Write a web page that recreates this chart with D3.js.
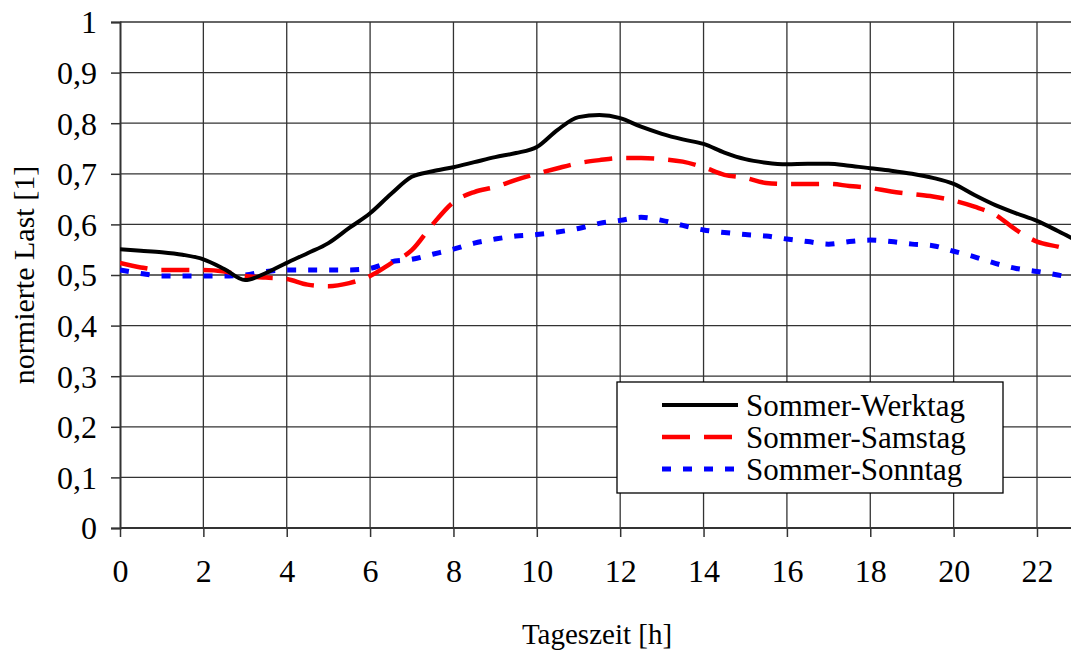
<!DOCTYPE html>
<html>
<head>
<meta charset="utf-8">
<script src="https://cdn.jsdelivr.net/npm/d3@7"></script>
<style>
  body { margin: 0; background: #fff; }
  svg { display: block; }
  svg text { font-family: "Liberation Serif", "Times New Roman", serif; }
</style>
</head>
<body>
<div id="chart"></div>
<script>
// half-hour values
var hours = d3.range(0, 23.5, 0.5);

var werktag = [0.551, 0.548, 0.545, 0.540, 0.531, 0.512, 0.490, 0.504, 0.524, 0.543, 0.563, 0.593,
               0.622, 0.660, 0.694, 0.705, 0.713, 0.723, 0.733, 0.741, 0.753, 0.787, 0.812, 0.816,
               0.810, 0.793, 0.779, 0.768, 0.759, 0.742, 0.729, 0.722, 0.719, 0.720, 0.720, 0.716,
               0.711, 0.706, 0.700, 0.692, 0.680, 0.658, 0.638, 0.622, 0.607, 0.587, 0.566];
var samstag = [0.524, 0.515, 0.510, 0.510, 0.510, 0.507, 0.498, 0.495, 0.492, 0.481, 0.478, 0.484,
               0.498, 0.523, 0.549, 0.600, 0.644, 0.664, 0.674, 0.688, 0.700, 0.711, 0.721, 0.727,
               0.731, 0.731, 0.729, 0.724, 0.713, 0.698, 0.692, 0.682, 0.680, 0.680, 0.680, 0.676,
               0.672, 0.665, 0.660, 0.655, 0.647, 0.635, 0.619, 0.589, 0.566, 0.556, 0.545];
var sonntag = [0.510, 0.503, 0.498, 0.498, 0.498, 0.498, 0.500, 0.507, 0.510, 0.510, 0.510, 0.510,
               0.513, 0.526, 0.531, 0.541, 0.551, 0.563, 0.571, 0.577, 0.580, 0.585, 0.592, 0.602,
               0.608, 0.614, 0.608, 0.598, 0.589, 0.584, 0.580, 0.577, 0.571, 0.566, 0.561, 0.566,
               0.569, 0.566, 0.561, 0.558, 0.547, 0.536, 0.523, 0.513, 0.507, 0.500, 0.492];

var seriesNames = ["Sommer-Werktag", "Sommer-Samstag", "Sommer-Sonntag"];
var xTicks = d3.range(0, 23, 2);
var yTicks = d3.range(0, 1.01, 0.1);

var W = 1071, H = 653;
var margin = { top: 22, right: 0, bottom: 125, left: 120 };

var svg = d3.select("#chart").append("svg")
    .attr("width", W)
    .attr("height", H);

var x = d3.scaleLinear()
    .domain([0, 22])
    .range([margin.left, 1037]);

var y = d3.scaleLinear()
    .domain([0, 1])
    .range([H - margin.bottom, margin.top]);

var x0 = margin.left, x1 = W, y0 = y(0), y1 = y(1);

svg.append("clipPath").attr("id", "clip")
    .append("rect")
    .attr("x", x0).attr("y", y1 - 5)
    .attr("width", x1 - x0).attr("height", y0 - y1 + 10);

// grid
var grid = svg.append("g").attr("stroke", "#333").attr("stroke-width", 1.3);
grid.selectAll(".hg").data(yTicks.slice(1)).enter().append("line")
    .attr("x1", x0).attr("x2", x1)
    .attr("y1", d => y(d)).attr("y2", d => y(d));
grid.selectAll(".vg").data(xTicks.slice(1)).enter().append("line")
    .attr("x1", d => x(d)).attr("x2", d => x(d))
    .attr("y1", y1).attr("y2", y0);

// axes
var yAxis = svg.append("g")
    .attr("transform", "translate(" + x0 + ",0)")
    .call(d3.axisLeft(y).tickValues(yTicks).tickSize(9).tickPadding(14)
        .tickFormat(d => d === 0 || d > 0.99 ? d3.format("d")(Math.round(d)) : d3.format(".1f")(d).replace(".", ",")));
yAxis.attr("font-family", null).attr("font-size", null);
yAxis.select(".domain").attr("stroke", "#333").attr("stroke-width", 2);
yAxis.selectAll(".tick line").attr("stroke", "#333").attr("stroke-width", 1.5);
yAxis.selectAll("text").attr("fill", "#000").style("font-size", "32px").attr("dy", "0.34em");

var xAxis = svg.append("g")
    .attr("transform", "translate(0," + y0 + ")")
    .call(d3.axisBottom(x).tickValues(xTicks).tickSize(9).tickPadding(22).tickFormat(d3.format("d")));
xAxis.attr("font-family", null).attr("font-size", null);
xAxis.select(".domain").remove();
xAxis.append("line").attr("x1", x0).attr("x2", x1).attr("stroke", "#333").attr("stroke-width", 2);
xAxis.selectAll(".tick line").attr("stroke", "#333").attr("stroke-width", 1.5);
xAxis.selectAll("text").attr("fill", "#000").style("font-size", "32px");

// lines
var line = d3.line()
    .x((d, i) => x(hours[i]))
    .y(d => y(d))
    .curve(d3.curveMonotoneX);

var styles = [
    { data: werktag, color: "#000", dash: null, w: 4 },
    { data: samstag, color: "#ff0000", dash: "28,14", w: 4.5 },
    { data: sonntag, color: "#0000ff", dash: "9,12", w: 5 }
];

var plot = svg.append("g").attr("clip-path", "url(#clip)");
styles.slice().reverse().forEach(s => {
    plot.append("path")
        .datum(s.data)
        .attr("fill", "none")
        .attr("stroke", s.color)
        .attr("stroke-width", s.w)
        .attr("stroke-dasharray", s.dash)
        .attr("d", line);
});

// legend
var legend = svg.append("g").attr("transform", "translate(617,382)");
legend.append("rect")
    .attr("width", 386).attr("height", 111)
    .attr("fill", "#fff").attr("stroke", "#000").attr("stroke-width", 1.3);
styles.forEach((s, i) => {
    var ly = 23 + i * 32;
    legend.append("line")
        .attr("x1", 45).attr("x2", 121)
        .attr("y1", ly).attr("y2", ly)
        .attr("stroke", s.color)
        .attr("stroke-width", s.w)
        .attr("stroke-dasharray", s.dash);
    legend.append("text")
        .attr("x", 129).attr("y", ly)
        .attr("dy", "0.35em")
        .style("font-size", "31px")
        .text(seriesNames[i]);
});

// axis titles
svg.append("text")
    .attr("x", 597).attr("y", 644)
    .attr("text-anchor", "middle")
    .style("font-size", "29px")
    .text("Tageszeit [h]");

svg.append("text")
    .attr("transform", "translate(34," + ((y0 + y1) / 2) + ") rotate(-90)")
    .attr("text-anchor", "middle")
    .style("font-size", "30px")
    .text("normierte Last [1]");
</script>
</body>
</html>
